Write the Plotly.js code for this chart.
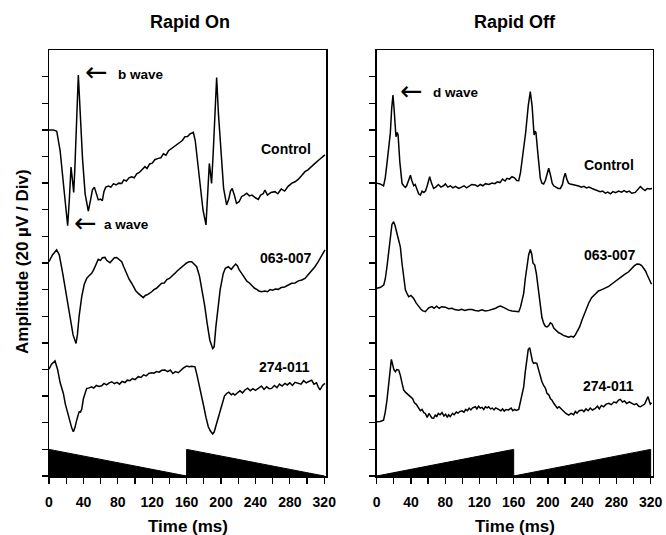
<!DOCTYPE html>
<html>
<head>
<meta charset="utf-8">
<script src="https://cdn.plot.ly/plotly-3.0.1.min.js"></script>
<style>html,body{margin:0;padding:0;background:#fff;}#chart{width:666px;height:535px;}</style>
</head>
<body>
<div id="chart"></div>
<script>
// ---------- DATA (time in ms, amplitude in divisions of 20 µV) ----------
const xTickVals = [0, 40, 80, 120, 160, 200, 240, 280, 320];
const xTickText = ["0", "40", "80", "120", "160", "200", "240", "280", "320"];
const yTickVals = [0, 1, 2, 3, 4, 5, 6, 7, 8, 9, 10, 11, 12, 13, 14, 15];

const panelTitles = ["Rapid On", "Rapid Off"];
const seriesNames = ["Control", "063-007", "274-011"];

// Rapid On – Control
const onControlX = [0,5,9,13,17,20,21.7,23.5,25.6,27,28.7,30,32,34.1,36.5,39,42,45.7,48.5,50.5,52.7,55,57.3,60,62,64,66,69,72,75,78,81,84.5,87,90,93,96,99,102,105,108,111.6,114,117,120,123,127,130,133,136,139,142.6,146,149,152,155,158,161,164,167.8,170,173,176,179,182.5,184.5,186.4,188,189,191,193,194.9,197,200,203,206.5,209,211,213,215.5,218,221,224,227,229.8,233,236,240,243.3,246,249,251,254,258,262.7,266,270,274,278,282,286,290,294,297.6,301,305,309.2,313,317,320.8];
const onControlY = [13.0,13.0,12.95,12.2,10.9,9.8,9.4,10.3,11.6,11.2,10.65,11.5,13.6,15.06,13.5,11.9,10.6,9.95,10.4,10.75,10.85,10.6,10.37,10.4,10.34,10.7,10.85,10.89,10.85,10.98,10.93,11.0,10.99,11.12,11.08,11.2,11.24,11.2,11.35,11.4,11.5,11.62,11.55,11.72,11.75,11.88,11.93,11.95,12.1,12.05,12.22,12.31,12.38,12.45,12.55,12.6,12.74,12.75,12.85,12.91,12.6,11.7,10.8,10.0,9.43,10.5,11.74,11.3,10.99,12.2,14.0,14.97,13.6,12.0,10.8,10.18,10.4,10.7,10.8,10.55,10.24,10.3,10.5,10.55,10.62,10.52,10.55,10.45,10.39,10.55,10.6,10.74,10.55,10.65,10.68,10.6,10.78,10.7,10.88,10.99,11.05,11.15,11.28,11.43,11.5,11.6,11.74,11.85,11.95,12.06];

// Rapid On – 063-007
const on063X = [0,4,8.9,12,16,20,24,28,31.4,33,35,38,41,43.8,46,49.6,52,55,57.3,60,62,65.1,67,70.9,73,76,78.7,81,84.5,87,90,93,96.1,99,101,103.8,106,109.6,112,115,119.4,122,125,128,131,134,137,140,142.6,146,149,152,156.1,160,163,165.9,168,171.7,175,178,181,184,187,190.3,192,194,196.8,199,202.6,205,208.4,212,214,217,219,221,224,227,230,233,235.6,239,242,244,247.2,251,254,257,260,263,266.5,270,274,278,282,286,290,294,297.6,301,305,309.2,313,317,320.8];
const on063Y = [8.05,8.3,8.49,8.3,7.6,6.8,6.0,5.3,4.98,5.3,6.0,6.73,7.2,7.42,7.5,7.61,7.75,8.0,8.14,8.1,8.2,8.21,8.1,8.01,8.1,8.2,8.21,8.15,8.05,7.85,7.6,7.4,7.24,7.05,6.95,6.86,6.8,6.7,6.78,6.82,6.92,7.0,7.05,7.15,7.24,7.25,7.38,7.42,7.49,7.6,7.7,7.78,7.92,8.0,8.05,8.05,7.98,7.86,7.5,7.0,6.4,5.7,5.1,4.79,4.85,5.6,6.36,7.0,7.61,7.8,7.86,7.76,7.85,7.96,7.9,7.75,7.61,7.45,7.32,7.25,7.17,7.05,7.0,6.95,6.92,6.95,6.92,7.0,6.98,7.02,7.01,7.08,7.1,7.18,7.24,7.25,7.33,7.36,7.42,7.55,7.7,7.86,8.05,8.25,8.49];

// Rapid On – 274-011
const on274X = [0,3,7,10,13,16.7,19,22,24.4,26.5,28.3,30,32.2,33.5,35,36.5,38,40,43.8,46,49.6,52,55,58,61.2,64,67,70,72.9,76,79,82,85,88.3,91,94,97,100,103.8,107,110,113,116,119.4,122,125,128,131,134.8,138,141,144,147,150.3,153,156,160,163,166,169.7,172,175,177.5,180,182.5,185.2,187.5,190.3,192,194.5,196.8,199,202,204,206.5,209,212,214,216.2,219,222,225,227.8,231,234,237,240,243.3,247,250,253,256,258.8,262,265,268,271,274.3,277,280,283,286,289.8,293,296,299,302,305.4,308,311,313,315,318,320.8];
const on274Y = [4.01,4.2,4.32,4.0,3.5,3.1,2.7,2.3,1.98,1.8,1.66,1.8,2.1,2.3,2.41,2.4,2.5,2.9,3.29,3.3,3.35,3.3,3.4,3.36,3.39,3.48,3.42,3.5,3.54,3.47,3.52,3.45,3.55,3.51,3.6,3.58,3.66,3.62,3.73,3.7,3.8,3.76,3.85,3.88,3.86,3.92,3.9,3.97,3.98,3.92,3.98,3.85,3.92,3.88,3.98,4.05,4.13,4.1,4.12,4.1,3.8,3.3,2.98,2.6,2.2,1.85,1.7,1.58,1.65,1.95,2.23,2.5,2.8,3.0,3.1,3.15,3.05,3.1,3.04,3.12,3.2,3.12,3.23,3.3,3.2,3.28,3.22,3.29,3.38,3.25,3.35,3.28,3.29,3.4,3.32,3.45,3.38,3.48,3.42,3.5,3.4,3.52,3.48,3.45,3.58,3.5,3.55,3.6,3.45,3.5,3.35,3.23,3.4,3.48];

// Rapid Off – Control
const offControlX = [0,4,8,10,12,14,15.9,17.5,19,20.5,22.5,24,25,27,29.6,31.5,33.5,35,37,39.4,41,43.3,45,47,49,51,53,55,57,59,61.9,64,66.5,69,72,75,78,80.2,83,86,89,92,95.8,99,102,105,108,111,115.2,118,121,124,127,131,134.7,138,141,144,147,150,152.2,155,158,161,163.5,165.9,168,170,171.7,174,177,179.4,181.5,183.8,185,186,188,191.1,193,195,197,199,200.9,203,205,206.7,209,212,214.5,217,218.5,220.3,222,224,226,229,232,236,239,242,245,248,251.5,255,258,261,264,267,270,273,276,279,282.6,286,289,292,295,298,302,305,308,311,313.5,316,319,321.6];
const offControlY = [11.0,10.97,10.9,11.2,11.74,12.3,12.87,13.8,14.31,13.7,12.74,12.9,12.8,11.8,10.99,10.9,10.84,10.9,11.1,11.3,11.1,10.9,10.95,10.75,10.6,10.55,10.7,10.65,10.7,10.9,11.24,11.0,10.8,10.85,10.95,10.85,10.9,10.97,10.85,10.9,10.82,10.88,10.8,10.85,10.9,10.82,10.88,10.95,10.93,10.88,10.95,10.9,10.98,10.95,11.0,10.98,11.05,11.02,11.15,11.08,11.18,11.15,11.24,11.2,11.1,11.09,11.4,11.9,12.24,12.9,13.9,14.44,13.9,12.81,12.95,12.9,12.2,11.18,11.0,10.97,11.1,11.4,11.56,11.3,11.0,10.9,10.85,10.8,10.8,10.95,11.2,11.37,11.15,11.0,10.97,10.95,10.92,10.89,10.85,10.88,10.82,10.85,10.8,10.75,10.72,10.68,10.7,10.62,10.66,10.6,10.68,10.64,10.7,10.66,10.72,10.66,10.7,10.62,10.65,10.75,10.87,10.78,10.72,10.8,10.78,10.8];

// Rapid Off – 063-007
const off063X = [0,4,8.2,10,12,14,15.9,17.8,19.8,21.5,23.7,25.6,27.6,29.5,31.5,33.5,35.5,37.4,40,43.2,46,49,52,54,56.8,59,61,64.6,67,70,73,76,80.2,84,88,91,95.8,99,103,107,111.3,115,119,123,126.9,131,135,139,142,144.4,147,150,154.2,158,162,165.9,168,170,171.7,173.5,175.6,177.5,179.4,181,182.5,184.6,186.5,189.3,191,193,195.1,197,199,201,202.8,204.8,207,210,212.6,215,218,221,224.3,227,230,232,234,237,239.8,243,247.6,251,255.4,259,263,267,271,275,279,282.6,286,290,294.3,298,301,304,307,309.5,311.9,314,316,318,319.6,321];
const off063Y = [7.05,7.08,7.17,7.4,7.86,8.5,9.11,9.45,9.55,9.4,9.11,8.9,8.61,8.0,7.4,6.99,6.85,6.73,6.78,6.67,6.5,6.36,6.25,6.2,6.17,6.25,6.32,6.36,6.3,6.38,6.3,6.36,6.34,6.28,6.3,6.25,6.23,6.26,6.22,6.25,6.25,6.22,6.2,6.24,6.2,6.22,6.25,6.3,6.36,6.38,6.35,6.3,6.23,6.2,6.18,6.17,6.35,6.6,6.86,7.4,7.86,8.3,8.51,8.35,8.0,7.92,7.6,6.86,6.4,5.95,5.73,5.62,5.6,5.65,5.75,5.71,5.55,5.45,5.38,5.35,5.28,5.25,5.21,5.25,5.22,5.3,5.4,5.6,5.86,6.15,6.49,6.7,6.86,6.95,7.0,7.05,7.12,7.22,7.32,7.42,7.48,7.58,7.67,7.8,7.9,7.96,7.95,7.9,7.8,7.7,7.55,7.42,7.3,7.2];

// Rapid Off – 274-011
const off274X = [0,4,8,10,12,14,15.5,17.1,18.5,20,21.8,23.5,25.7,27.5,29.5,31.5,33.5,35.5,37.5,39.3,42,44,46,49,51,53,55,56.8,59,61,63,64.5,66.5,68.5,70,72,74,76.3,78.5,80.5,82.5,84,86,88.5,90.5,93,95,97,99.6,102,104,106,108,110,112,115.2,117,119,121,123,125,127,129,130.7,133,135,137,139,142.4,145,147,149,151,154,157,159,161,163,165.9,168,170,171.7,173.5,175.5,177,178.7,180.5,182,183.3,185,187,189,191,193,195,197,199,201,203,204.8,206.8,209,211,213,216.5,219,221,224.3,227,230,232,234,236.5,239.8,242,244.5,247,249.5,252,255.4,258,260,262.5,265,268,271,274,277,280,282.5,284.6,287,289.5,292,295,298.2,301,303.5,306,308,311,313,315,316.9,318.5,319.6,321];
const off274Y = [2.04,2.05,2.1,2.4,2.85,3.5,4.1,4.38,4.2,4.0,3.92,4.0,3.98,3.8,3.5,3.23,3.15,3.1,3.05,2.98,2.9,2.75,2.7,2.54,2.45,2.5,2.38,2.35,2.2,2.35,2.25,2.18,2.17,2.3,2.22,2.35,2.3,2.38,2.25,2.32,2.2,2.3,2.23,2.35,2.3,2.4,2.36,2.42,2.45,2.4,2.5,2.45,2.55,2.48,2.56,2.6,2.52,2.62,2.55,2.58,2.5,2.6,2.56,2.6,2.52,2.55,2.48,2.56,2.5,2.45,2.52,2.44,2.5,2.48,2.55,2.45,2.5,2.46,2.5,2.8,3.1,3.35,3.9,4.5,4.75,4.82,4.5,4.3,4.23,4.25,4.23,4.0,3.75,3.54,3.4,3.3,3.1,3.05,2.9,2.85,2.73,2.62,2.55,2.6,2.48,2.4,2.35,2.29,2.35,2.3,2.42,2.36,2.45,2.48,2.42,2.52,2.45,2.55,2.48,2.54,2.62,2.52,2.65,2.6,2.7,2.73,2.68,2.78,2.75,2.85,2.88,2.78,2.82,2.72,2.78,2.73,2.68,2.72,2.62,2.6,2.65,2.7,2.85,2.98,2.8,2.7,2.75];

// Stimulus ramps (luminance, 0..1 division)
const stimOnX = [0, 0, 160, 160, 320, 0];
const stimOnY = [0, 1, 0, 1, 0, 0];
const stimOffX = [0, 160, 160, 320, 320, 0];
const stimOffY = [0, 1, 0, 1, 0, 0];

// ---------- FIGURE ----------
const W = 666, H = 535;
const PX = p => p / W;
const PY = p => 1 - p / H;
const FONT = "Liberation Sans, Arial, sans-serif";
const lineStyle = {color: "#000", width: 1.5};

function trace(x, y, ax) {
  return {x: x, y: y, xaxis: ax[0], yaxis: ax[1], type: "scatter", mode: "lines",
          line: lineStyle, hoverinfo: "skip", showlegend: false};
}
function stim(x, y, ax) {
  return {x: x, y: y, xaxis: ax[0], yaxis: ax[1], type: "scatter", mode: "lines",
          fill: "toself", fillcolor: "#000", line: {color: "#000", width: 1},
          hoverinfo: "skip", showlegend: false};
}
const A1 = ["x", "y"], A2 = ["x2", "y2"];
const data = [
  stim(stimOnX, stimOnY, A1),
  trace(onControlX, onControlY, A1),
  trace(on063X, on063Y, A1),
  trace(on274X, on274Y, A1),
  stim(stimOffX, stimOffY, A2),
  trace(offControlX, offControlY, A2),
  trace(off063X, off063Y, A2),
  trace(off274X, off274Y, A2)
];

function xAx(domain, anchor) {
  return {domain: domain, anchor: anchor, range: [0, 322.5], fixedrange: true,
    showline: true, linecolor: "#000", linewidth: 1.5, mirror: true,
    showgrid: false, zeroline: false,
    tickmode: "array", tickvals: xTickVals, ticktext: xTickText,
    ticks: "outside", ticklen: 6, tickwidth: 1.3, tickcolor: "#000",
    ticklabelstandoff: 7,
    minor: {dtick: 20, tick0: 0, ticks: "outside", ticklen: 6, tickwidth: 1.3, tickcolor: "#000", showgrid: false},
    tickfont: {family: FONT, size: 14, color: "#000", weight: "bold"}};
}
function yAx(domain, anchor) {
  return {domain: domain, anchor: anchor, range: [0, 16], fixedrange: true,
    showline: true, linecolor: "#000", linewidth: 1.5, mirror: true,
    showgrid: false, zeroline: false,
    tickmode: "array", tickvals: yTickVals, showticklabels: false,
    ticks: "outside", ticklen: 6, tickwidth: 1.3, tickcolor: "#000"};
}
const yDom = [1 - 476 / H, 1 - 50 / H];

function txt(text, px, py, size, extra) {
  return Object.assign({text: text, x: PX(px), y: PY(py), xref: "paper", yref: "paper",
    showarrow: false, xanchor: "center", yanchor: "middle",
    font: {family: FONT, size: size, color: "#000", weight: "bold"}}, extra || {});
}
function arrow(px, py) {
  return {text: "←", x: PX(px), y: PY(py), xref: "paper", yref: "paper", showarrow: false,
    xanchor: "center", yanchor: "middle",
    font: {family: "DejaVu Sans, sans-serif", size: 27, color: "#000"}};
}

const annotations = [
  txt(panelTitles[0], 190, 22, 18),
  txt(panelTitles[1], 515, 22, 18),
  txt("Time (ms)", 187.5, 526, 17),
  txt("Time (ms)", 515, 526, 17),
  txt("Amplitude (20 µV / Div)", 22, 262, 17, {textangle: -90}),
  arrow(96, 71), txt("b wave", 141, 74, 13.5),
  arrow(85, 222), txt("a wave", 126, 225, 13.5),
  arrow(411.5, 90), txt("d wave", 456, 93, 13.5),
  txt(seriesNames[0], 286, 149, 14),
  txt(seriesNames[1], 286, 258, 14),
  txt(seriesNames[2], 284.5, 367, 14),
  txt(seriesNames[0], 609, 165, 14),
  txt(seriesNames[1], 609.5, 255, 14),
  txt(seriesNames[2], 608, 386, 14)
];

const layout = {
  width: W, height: H, margin: {l: 0, r: 0, t: 0, b: 0},
  paper_bgcolor: "#fff", plot_bgcolor: "#fff", showlegend: false,
  xaxis: xAx([49 / W, 326.4 / W], "y"),
  yaxis: yAx(yDom, "x"),
  xaxis2: xAx([376.7 / W, 652.8 / W], "y2"),
  yaxis2: yAx(yDom, "x2"),
  annotations: annotations
};

Plotly.newPlot("chart", data, layout, {staticPlot: true, displayModeBar: false});
</script>
</body>
</html>
